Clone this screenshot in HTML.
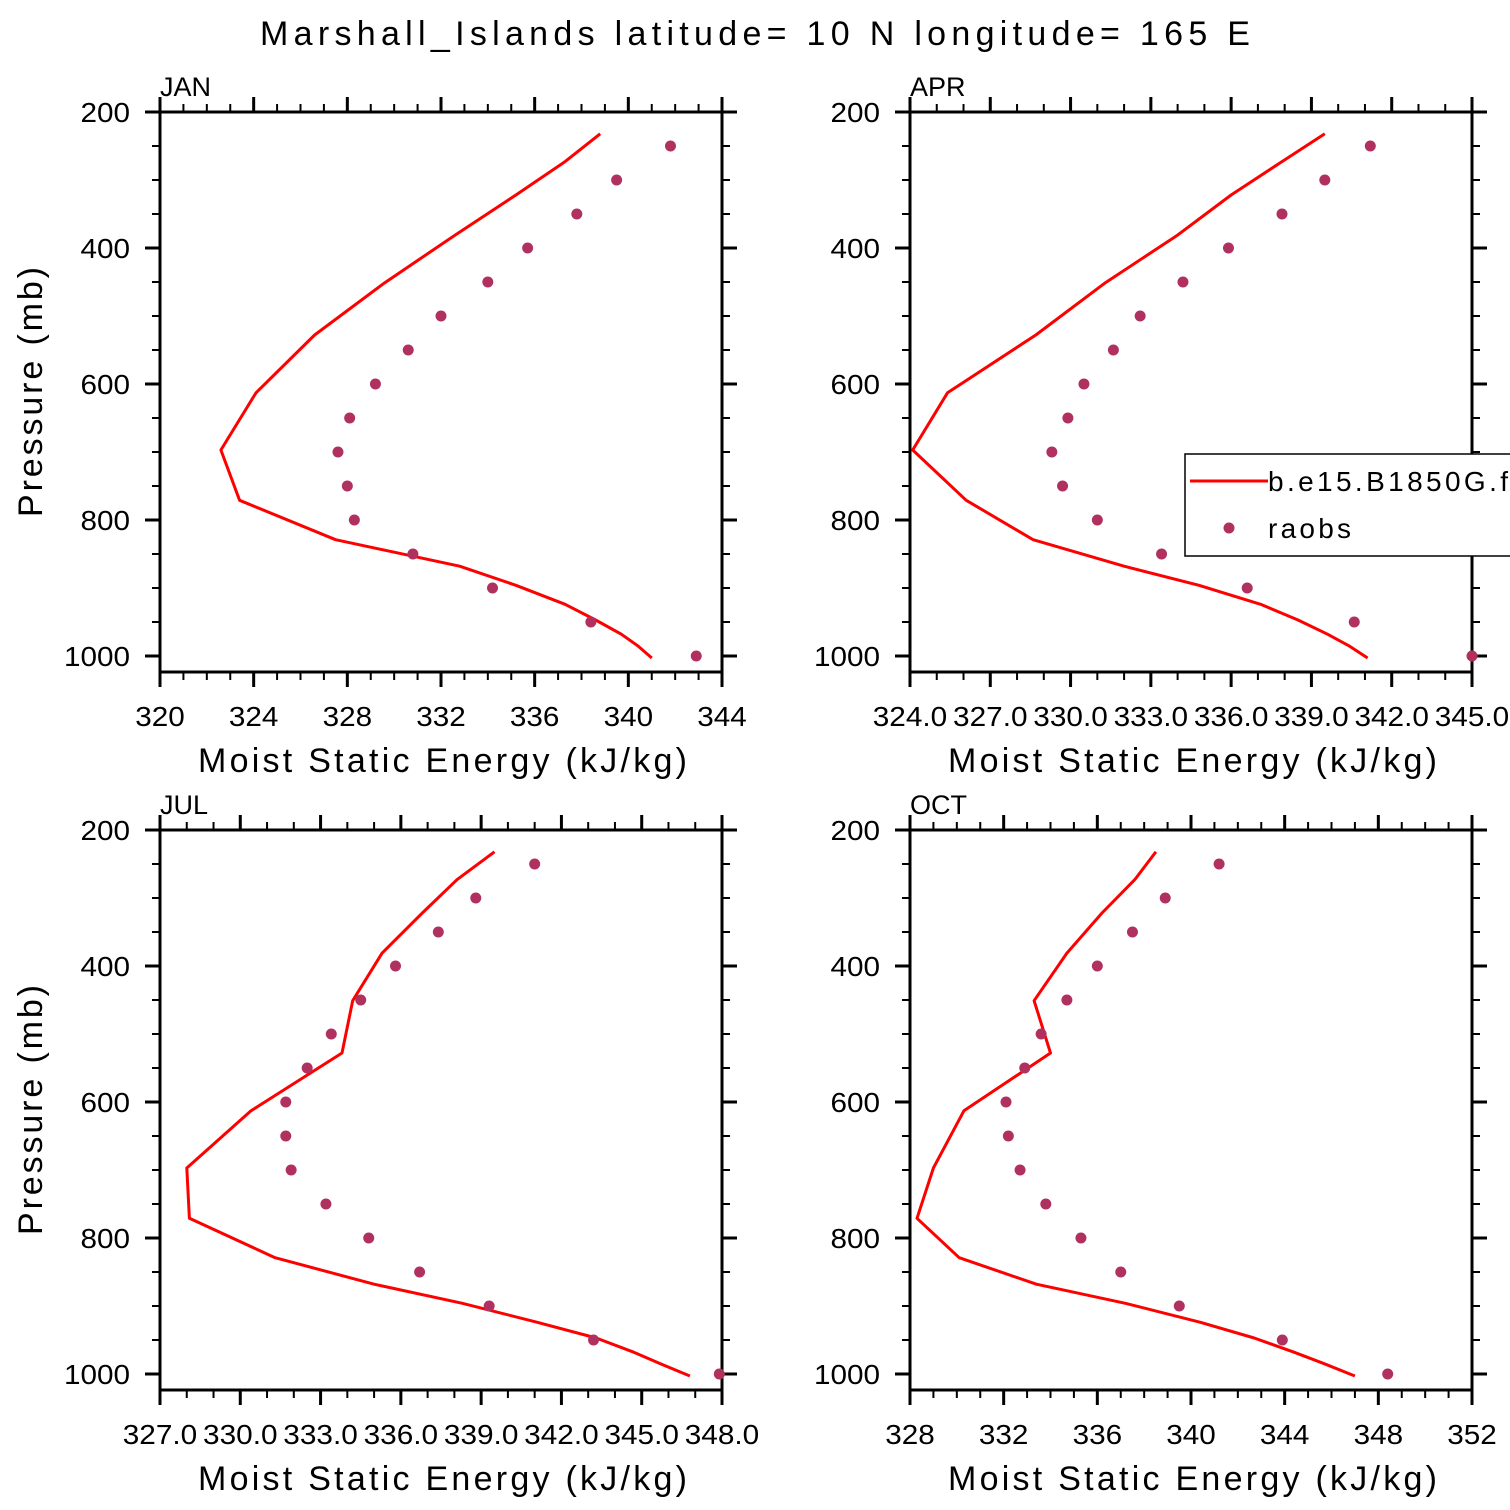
<!DOCTYPE html>
<html><head><meta charset="utf-8"><style>
html,body{margin:0;padding:0;background:#fff}
svg{display:block;font-family:"Liberation Sans","DejaVu Sans",sans-serif}
</style></head><body>
<svg id="chart" width="1510" height="1510" viewBox="0 0 1510 1510" xmlns="http://www.w3.org/2000/svg">
<text x="260" y="45" font-size="34" textLength="990" lengthAdjust="spacing">Marshall_Islands   latitude=  10 N longitude=  165 E</text>
</svg>
<script>
const modelP = [232,273,322,381,451,528,613,697,771,829,868,896,924,947,968,985,1003];
const obsP = [250,300,350,400,450,500,550,600,650,700,750,800,850,900,950,1000];
const janModel = [338.8,337.3,335.2,332.6,329.6,326.6,324.1,322.6,323.4,327.5,332.8,335.2,337.3,338.6,339.7,340.4,341.0];
const janObs = [341.8,339.5,337.8,335.7,334.0,332.0,330.6,329.2,328.1,327.6,328.0,328.3,330.8,334.2,338.4,342.9];
const aprModel = [339.5,337.9,336.0,334.0,331.3,328.7,325.4,324.1,326.1,328.6,332.0,334.8,337.1,338.5,339.6,340.4,341.1];
const aprObs = [341.2,339.5,337.9,335.9,334.2,332.6,331.6,330.5,329.9,329.3,329.7,331.0,333.4,336.6,340.6,345.0];
const julModel = [339.5,338.1,336.8,335.3,334.2,333.8,330.4,328.0,328.1,331.3,335.0,338.3,341.1,343.3,344.7,345.7,346.8];
const julObs = [341.0,338.8,337.4,335.8,334.5,333.4,332.5,331.7,331.7,331.9,333.2,334.8,336.7,339.3,343.2,347.9];
const octModel = [338.5,337.6,336.2,334.7,333.3,334.0,330.3,329.0,328.3,330.1,333.4,337.2,340.4,342.7,344.4,345.7,347.0];
const octObs = [341.2,338.9,337.5,336.0,334.7,333.6,332.9,332.1,332.2,332.7,333.8,335.3,337.0,339.5,343.9,348.4];
const yTicks = [200,400,600,800,1000];
const janTicks = ["320","324","328","332","336","340","344"];
const aprTicks = ["324.0","327.0","330.0","333.0","336.0","339.0","342.0","345.0"];
const julTicks = ["327.0","330.0","333.0","336.0","339.0","342.0","345.0","348.0"];
const octTicks = ["328","332","336","340","344","348","352"];

const NS="http://www.w3.org/2000/svg";
const svg=document.getElementById('chart');
function mk(tag,attrs,parent){const e=document.createElementNS(NS,tag);for(const k in attrs)e.setAttribute(k,attrs[k]);(parent||svg).appendChild(e);return e;}

function panel(name,label,x0,y0,ticks,step,model,obs,showYTitle,legend){
  const W=562,H=560;
  const g=mk('g',{});
  
  
  const xmin=parseFloat(ticks[0]), xmax=parseFloat(ticks[ticks.length-1]);
  const sx=v=>x0+(v-xmin)/(xmax-xmin)*W;
  const sy=p=>y0+(p-200)*0.68;
  const yb=y0+H;
  const cid='clip-'+name;
  const cp=mk('clipPath',{id:cid},g);mk('rect',{x:x0,y:y0,width:W,height:H},cp);
  for(let v=xmin;v<=xmax+1e-6;v+=1){
    const major=Math.abs(((v-xmin)/step)-Math.round((v-xmin)/step))<1e-6;
    const L=major?15:8,X=sx(v);
    mk('line',{x1:X,y1:yb,x2:X,y2:yb+L,stroke:'#000','stroke-width':major?3:2},g);
    mk('line',{x1:X,y1:y0,x2:X,y2:y0-L,stroke:'#000','stroke-width':major?3:2},g);
  }
  ticks.forEach(t=>{
    const w=t.length*16.5-(t.indexOf('.')>=0?8:0);
    const tx=mk('text',{x:sx(parseFloat(t))-w/2,y:yb+54,'font-size':28,textLength:w,lengthAdjust:'spacingAndGlyphs'},g);tx.textContent=t;
    
    
  });
  for(let p=200;p<=1000;p+=50){
    const major=p%200===0,L=major?15:8,Y=sy(p);
    mk('line',{x1:x0,y1:Y,x2:x0-L,y2:Y,stroke:'#000','stroke-width':major?3:2},g);
    mk('line',{x1:x0+W,y1:Y,x2:x0+W+L,y2:Y,stroke:'#000','stroke-width':major?3:2},g);
  }
  yTicks.forEach(p=>{
    const s=String(p),w=s.length*16.5;
    const tx=mk('text',{x:x0-30-w,y:sy(p)+10,'font-size':28,textLength:w,lengthAdjust:'spacingAndGlyphs'},g);tx.textContent=s;
    
    
  });
  mk('rect',{x:x0,y:y0,width:W,height:H,fill:'none',stroke:'#000','stroke-width':3},g);
  const lab=mk('text',{x:x0,y:y0-16,'font-size':27},g);lab.textContent=label;
  
  
  const xt=mk('text',{x:x0+38,y:yb+100,'font-size':34,textLength:489,lengthAdjust:'spacing'},g);xt.textContent='Moist Static Energy (kJ/kg)';
  
  
  if(showYTitle){
    const yt=mk('text',{x:-125,y:0,'font-size':34,textLength:250,lengthAdjust:'spacing',transform:`translate(42,${y0+H/2}) rotate(-90)`},g);yt.textContent='Pressure (mb)';
    
    
  }
  const pg=mk('g',{'clip-path':`url(#${cid})`},g);
  const pts=model.map((v,i)=>sx(v).toFixed(1)+','+sy(modelP[i]).toFixed(1)).join(' ');
  const pl=mk('polyline',{points:pts,fill:'none',stroke:'#ff0000','stroke-width':3,'stroke-linejoin':'round'},pg);
  
  
  obs.forEach((v,i)=>{
    const c=mk('circle',{cx:sx(v),cy:sy(obsP[i]),r:5.5,fill:'#b03060'},g);
    
    
  });
  if(legend){
    const lg=mk('g',{});
    
    
    mk('rect',{x:1185,y:454,width:340,height:102,fill:'#fff',stroke:'#000','stroke-width':1.5},lg);
    mk('line',{x1:1190,y1:481,x2:1268,y2:481,stroke:'#ff0000','stroke-width':3},lg);
    const t1=mk('text',{x:1268,y:491,'font-size':28,textLength:240,lengthAdjust:'spacing'},lg);t1.textContent='b.e15.B1850G.f';
    
    
    mk('circle',{cx:1229,cy:528,r:5.5,fill:'#b03060'},lg);
    const t2=mk('text',{x:1268,y:538,'font-size':28,textLength:83,lengthAdjust:'spacing'},lg);t2.textContent='raobs';
    
    
  }
}
panel('jan','JAN',160,112,janTicks,4,janModel,janObs,true,false);
panel('apr','APR',910,112,aprTicks,3,aprModel,aprObs,false,true);
panel('jul','JUL',160,830,julTicks,3,julModel,julObs,true,false);
panel('oct','OCT',910,830,octTicks,4,octModel,octObs,false,false);
</script>
</body></html>
